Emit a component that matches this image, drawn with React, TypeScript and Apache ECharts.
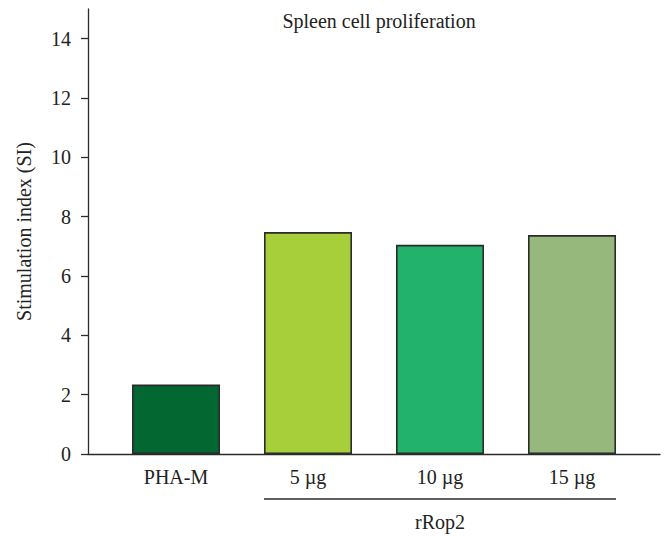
import React, { useEffect, useRef } from "react";
import * as echarts from "echarts";

const categories = ["PHA-M", "5 µg", "10 µg", "15 µg"];
const values = [2.34, 7.48, 7.05, 7.38];
const barColors = ["#036731", "#a7cf3a", "#22b26b", "#97b87c"];
const yTicks = [0, 2, 4, 6, 8, 10, 12, 14];
const yMax = 15;
const groupLabel = "rRop2";
const groupStart = "5 µg";
const groupEnd = "15 µg";
const titleText = "Spleen cell proliferation";
const yName = "Stimulation index (SI)";

const FONT = "'Liberation Serif', 'DejaVu Serif', serif";
const INK = "#2b2b2b";
const BAR_W = 88;
const FS = 20;

export default function App() {
  const ref = useRef<HTMLDivElement>(null);
  useEffect(() => {
    if (!ref.current) return;
    const chart = echarts.init(ref.current, undefined, { renderer: "svg" });
    const option: any = {
      animation: false,
      backgroundColor: "#ffffff",
      textStyle: { fontFamily: FONT },
      title: {
        text: titleText,
        left: 374,
        top: 6,
        textAlign: "center",
        textStyle: { fontFamily: FONT, fontSize: FS, fontWeight: "normal", color: "#222" },
      },
      grid: [
        { left: 110, right: 26, top: 9, bottom: 82 },
        { left: 88, right: 4, top: 9, bottom: 82 },
      ],
      xAxis: [
        {
          type: "category",
          gridIndex: 0,
          data: categories,
          axisLine: { show: false },
          axisTick: { show: false },
          axisLabel: { fontFamily: FONT, fontSize: FS, color: "#222", margin: 13 },
        },
        {
          type: "value",
          gridIndex: 1,
          min: 0,
          max: 1,
          axisLine: { show: true, lineStyle: { color: INK, width: 1.3 } },
          axisTick: { show: false },
          axisLabel: { show: false },
          splitLine: { show: false },
        },
      ],
      yAxis: [
        {
          type: "value",
          gridIndex: 0,
          min: 0,
          max: yMax,
          interval: 2,
          show: false,
          splitLine: { show: false },
        },
        {
          type: "value",
          gridIndex: 1,
          min: 0,
          max: yMax,
          interval: 2,
          name: yName,
          nameLocation: "middle",
          nameRotate: 90,
          nameGap: 54,
          nameTextStyle: { fontFamily: FONT, fontSize: FS, color: "#222" },
          axisLine: { show: true, lineStyle: { color: INK, width: 1.3 } },
          axisTick: {
            show: true,
            inside: false,
            length: 7,
            customValues: yTicks,
            lineStyle: { color: INK, width: 1.3 },
          },
          axisLabel: {
            fontFamily: FONT,
            fontSize: FS,
            color: "#222",
            margin: 17,
            customValues: yTicks,
          },
          splitLine: { show: false },
        },
      ],
      series: [
        {
          type: "bar",
          xAxisIndex: 0,
          yAxisIndex: 0,
          barWidth: BAR_W,
          data: values.map((v, i) => ({
            value: v,
            itemStyle: { color: barColors[i], borderColor: INK, borderWidth: 1.6 },
          })),
        },
      ],
    };
    chart.setOption(option);

    const x1 = (chart.convertToPixel({ xAxisIndex: 0 }, groupStart) as number) - BAR_W / 2;
    const x2 = (chart.convertToPixel({ xAxisIndex: 0 }, groupEnd) as number) + BAR_W / 2;
    const y0 = chart.convertToPixel({ yAxisIndex: 0 }, 0) as number;
    chart.setOption({
      graphic: [
        {
          type: "line",
          shape: { x1, y1: y0 + 45, x2, y2: y0 + 45 },
          style: { stroke: INK, lineWidth: 1.3 },
        },
        {
          type: "text",
          x: (x1 + x2) / 2,
          y: y0 + 68,
          style: {
            text: groupLabel,
            fontFamily: FONT,
            fontSize: FS,
            fill: "#222",
            textAlign: "center",
            textVerticalAlign: "middle",
          },
        },
      ],
    });
    return () => chart.dispose();
  }, []);
  return (
    <div
      ref={ref}
      style={{ position: "fixed", left: 0, top: 0, width: 664, height: 536, background: "#fff" }}
    />
  );
}
